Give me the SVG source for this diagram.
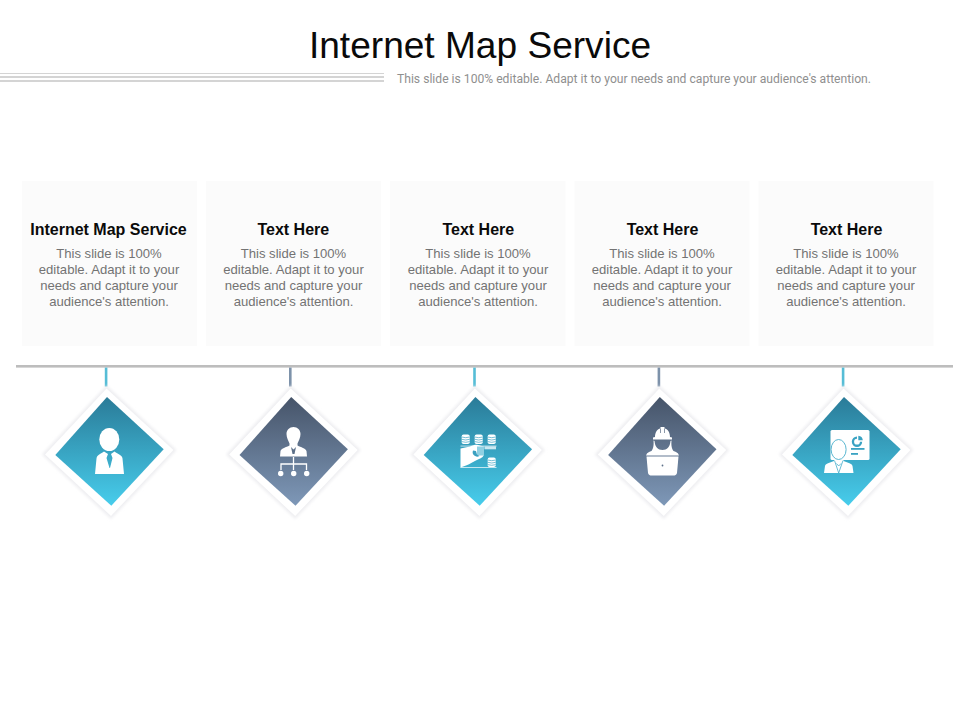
<svg xmlns="http://www.w3.org/2000/svg" width="960" height="720" viewBox="0 0 960 720">
<style>
.card{fill:#fbfbfb}
.h{font:bold 16px "Liberation Sans",Arial,sans-serif;fill:#0a0a0a;text-anchor:middle}
.b{font:13.100px "Liberation Sans",Arial,sans-serif;fill:#737373;text-anchor:middle}
.w{fill:#fff}
.ws{fill:none;stroke:#fff;stroke-width:1.3}
.blue{fill:url(#gb)}
.slate{fill:url(#gs)}
.sd{fill:#eeeef1;filter:url(#sh)}
.st{fill:none;stroke:#3fa5c4;stroke-width:.7}
</style>
<defs>
<linearGradient id="gb" x1="0" y1="0" x2="0" y2="1"><stop offset="0" stop-color="#2a7b98"/><stop offset="1" stop-color="#47cdec"/></linearGradient>
<linearGradient id="gs" x1="0" y1="0" x2="0" y2="1"><stop offset="0" stop-color="#465469"/><stop offset="1" stop-color="#7e98b8"/></linearGradient>
<filter id="sh" x="-15%" y="-15%" width="130%" height="130%"><feGaussianBlur stdDeviation="1.5"/></filter>
<polygon id="outer" points="106.500,385.500 176.500,450 111,519 42,454.500"/>
<polygon id="outer2" points="106.500,388.500 173.500,450 111,516 45,454.500"/>
<polygon id="inner" points="107,397 163.700,449.300 111.300,505.700 55.300,455"/>
<g id="coins"><rect class="w" x="0" y="0" width="8" height="9.500" rx="1.800"/><path class="st" d="M0 2.500q4 1.400 8 0M0 4.800q4 1.400 8 0M0 7.100q4 1.400 8 0"/></g>
</defs>
<rect width="960" height="720" fill="#fff"/>
<text x="480" y="57.500" font-family="Liberation Sans,Arial,sans-serif" font-size="37.100" fill="#0a0a0a" text-anchor="middle">Internet Map Service</text>
<g id="title-rule" fill="#d4d4d4">
<rect x="0" y="73" width="384" height="1"/>
<rect x="0" y="76" width="384" height="2"/>
<rect x="0" y="80" width="384" height="2"/>
</g>
<text x="397" y="83" font-family="Roboto,sans-serif" font-size="12.500" fill="#8f8f8f" textLength="474" lengthAdjust="spacingAndGlyphs">This slide is 100% editable. Adapt it to your needs and capture your audience's attention.</text>
<g id="connectors">
<rect x="16" y="365" width="937" height="2.600" fill="#bdbdbd"/>
<rect x="104.800" y="367.600" width="2.600" height="19" fill="#56bdd6"/>
<rect x="289" y="367.600" width="2.600" height="19" fill="#7d92aa"/>
<rect x="473.200" y="367.600" width="2.600" height="19" fill="#56bdd6"/>
<rect x="657.600" y="367.600" width="2.600" height="19" fill="#7d92aa"/>
<rect x="841.800" y="367.600" width="2.600" height="19" fill="#56bdd6"/>
</g>
<g id="node-1">
<rect class="card" x="22" y="181" width="175" height="165"/>
<text class="h" x="108.500" y="234.500">Internet Map Service</text>
<text class="b" x="109" y="258">This slide is 100%</text>
<text class="b" x="109" y="274">editable. Adapt it to your</text>
<text class="b" x="109" y="290">needs and capture your</text>
<text class="b" x="109" y="306">audience's attention.</text>
<use href="#outer" class="sd"/>
<use href="#outer2" class="w"/>
<use href="#inner" class="blue"/>
<ellipse class="w" cx="109.300" cy="439.500" rx="10" ry="11.500"/>
<path class="w" d="M104 451.500C100 454 97 455 96.500 458.500L95 474H124L122.500 458.500C122 455 118 454 114.500 451.500L111 454L112.500 458L110 468L109.500 468L106.500 458L108 454Z"/>
</g>
<g id="node-2">
<rect class="card" x="206" y="181" width="175" height="165"/>
<text class="h" x="293.300" y="234.500">Text Here</text>
<text class="b" x="293.500" y="258">This slide is 100%</text>
<text class="b" x="293.500" y="274">editable. Adapt it to your</text>
<text class="b" x="293.500" y="290">needs and capture your</text>
<text class="b" x="293.500" y="306">audience's attention.</text>
<g transform="translate(184.200)">
<use href="#outer" class="sd"/>
<use href="#outer2" class="w"/>
<use href="#inner" class="slate"/>
</g>
<path class="w" d="M293.500 427C297.500 427 300.500 430 300.500 434C300.500 438 298.500 441 297.500 443.500V445.500C301 447.500 305.500 448 306.500 451L307 456.500H280L280.500 451C281.500 448 286 447.500 289.500 445.500V443.500C288.500 441 286.500 438 286.500 434C286.500 430 289.500 427 293.500 427Z"/>
<path d="M291 447L293.500 449.500L296 447L294.500 454H292.500Z" fill="#5d7089"/>
<path class="ws" d="M293.500 457V470M281 470V464H306.500V470"/>
<circle class="w" cx="280.700" cy="473.500" r="2.700"/>
<circle class="w" cx="293.700" cy="473.500" r="2.700"/>
<circle class="w" cx="306.700" cy="473.500" r="2.700"/>
</g>
<g id="node-3">
<rect class="card" x="390" y="181" width="175.500" height="165"/>
<text class="h" x="478.300" y="234.500">Text Here</text>
<text class="b" x="478" y="258">This slide is 100%</text>
<text class="b" x="478" y="274">editable. Adapt it to your</text>
<text class="b" x="478" y="290">needs and capture your</text>
<text class="b" x="478" y="306">audience's attention.</text>
<g transform="translate(368.400)">
<use href="#outer" class="sd"/>
<use href="#outer2" class="w"/>
<use href="#inner" class="blue"/>
</g>
<use href="#coins" x="461.700" y="434.500"/>
<use href="#coins" x="474.700" y="434.500"/>
<use href="#coins" x="487.700" y="434.500"/>
<use href="#coins" x="487.700" y="457.500"/>
<path class="w" d="M460.500 448.500L470 446.500C473 445 476 444.500 478 445L484 446.500V452.500C484 456 483 457.500 479 459C474 461 470 464 466 465.500L460.500 467.500Z"/>
<rect class="w" x="460.500" y="445.700" width="36" height=".7"/>
<rect class="w" x="460.500" y="467" width="36" height=".7"/>
<rect x="484.500" y="446.300" width="11.500" height="3" fill="#c9e8f1"/>
<rect x="477" y="446.500" width="7" height="9" fill="#8fd0e2"/>
<path d="M473 450.500a4.500 4.500 0 0 0 6.500 5.500l-2.500-1.500-1-3.500Z" fill="#3aa0c0"/>
</g>
<g id="node-4">
<rect class="card" x="574.500" y="181" width="175" height="165"/>
<text class="h" x="662.500" y="234.500">Text Here</text>
<text class="b" x="662" y="258">This slide is 100%</text>
<text class="b" x="662" y="274">editable. Adapt it to your</text>
<text class="b" x="662" y="290">needs and capture your</text>
<text class="b" x="662" y="306">audience's attention.</text>
<g transform="translate(552.800)">
<use href="#outer" class="sd"/>
<use href="#outer2" class="w"/>
<use href="#inner" class="slate"/>
</g>
<path class="w" d="M655 437C655 432 657.500 429 660.500 428.200V427H664.500V428.200C667.500 429 670 432 670 437L672 437.500V439.500H653V437.500Z"/>
<path d="M660.500 428.500V433M664.500 428.500V433" stroke="#5a6c84" stroke-width=".7" fill="none"/>
<path class="w" d="M653.500 440.500C654 446 653 449 651.500 451C647.500 452.500 647 453 646 455.500H679C678 453 677.500 452.500 673.500 451C672 449 671 446 671.500 440.500L670.500 441C670 447 667 450 662.500 450C658 450 655 447 654.500 441Z"/>
<path class="w" d="M646.500 456.500H678.500L677 473C676.500 475 675 475.500 673.500 475.500H651.500C650 475.500 648.500 475 648 473Z"/>
<circle cx="662.500" cy="465.500" r=".9" fill="#5d7089"/>
</g>
<g id="node-5">
<rect class="card" x="758.500" y="181" width="175" height="165"/>
<text class="h" x="846.500" y="234.500">Text Here</text>
<text class="b" x="846" y="258">This slide is 100%</text>
<text class="b" x="846" y="274">editable. Adapt it to your</text>
<text class="b" x="846" y="290">needs and capture your</text>
<text class="b" x="846" y="306">audience's attention.</text>
<g transform="translate(737)">
<use href="#outer" class="sd"/>
<use href="#outer2" class="w"/>
<use href="#inner" class="blue"/>
</g>
<rect class="w" x="830.500" y="430" width="39" height="30" rx="1.500"/>
<path d="M857 436.500a5.200 5.200 0 1 0 5.200 5.200h-2.300a2.900 2.900 0 1 1-2.900-2.900Z" fill="#3aa3c3"/>
<path d="M858.300 435.800a5 5 0 0 1 4.500 4.500h-4.500Z" fill="#3aa3c3"/>
<rect x="851" y="448" width="13.500" height="1.800" fill="#3aa3c3"/>
<rect x="851" y="453" width="7" height="1.800" fill="#3aa3c3"/>
<path class="w" d="M834 458H843.500V461L847.500 462.500C850.500 463.500 852 464 852.500 466L853.500 473H824L825 466C825.500 464 827 463.500 830 462.500L834 461Z"/>
<path d="M834.500 460.500L838.700 473L843 460.500M836.500 463.500L838.700 466L841 463.500" fill="none" stroke="#46aecb" stroke-width=".8"/>
<ellipse cx="838.600" cy="449.500" rx="7.500" ry="10" fill="#fff" stroke="#46aecb" stroke-width=".9"/>
</g>
</svg>
